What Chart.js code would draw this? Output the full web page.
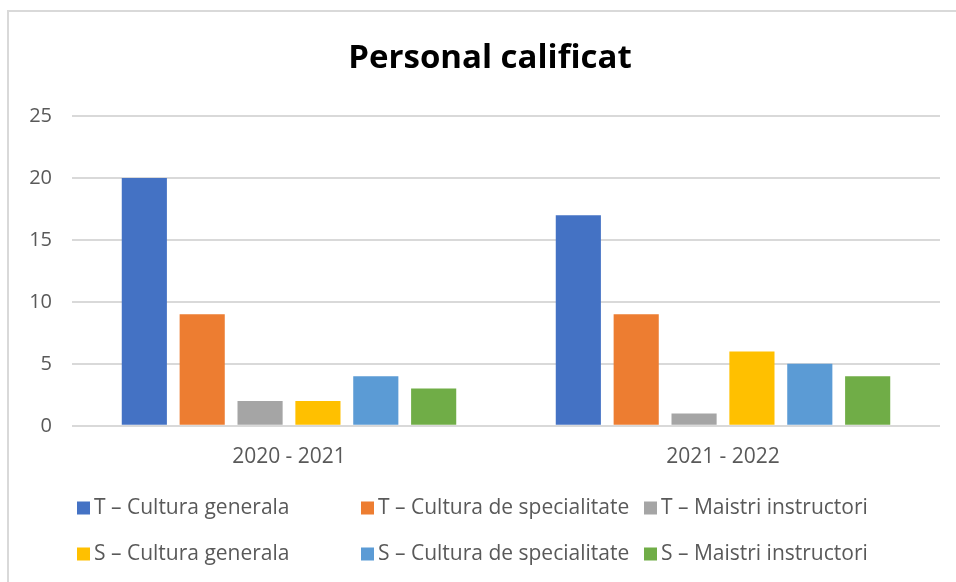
<!DOCTYPE html>
<html>
<head>
<meta charset="utf-8">
<style>
  html, body { margin: 0; padding: 0; background: #ffffff; }
  #wrap { position: relative; width: 956px; height: 582px; }
  canvas { display: block; }
</style>
<script src="https://cdn.jsdelivr.net/npm/chart.js@4.4.1/dist/chart.umd.min.js"></script>
</head>
<body>
<div id="wrap"><canvas id="c" width="956" height="582"></canvas></div>
<script>
// School years on the category axis
const categories = ['2020 - 2021', '2021 - 2022'];

// Series names (T = titular, S = suplinitor)
const seriesNames = [
  'T \u2013 Cultura generala',
  'T \u2013 Cultura de specialitate',
  'T \u2013 Maistri instructori',
  'S \u2013 Cultura generala',
  'S \u2013 Cultura de specialitate',
  'S \u2013 Maistri instructori'
];

// Staff counts per series, one value per school year
const tCulturaGenerala = [20, 17];
const tCulturaSpecialitate = [9, 9];
const tMaistri = [2, 1];
const sCulturaGenerala = [2, 6];
const sCulturaSpecialitate = [4, 5];
const sMaistri = [3, 4];

const seriesValues = [
  tCulturaGenerala, tCulturaSpecialitate, tMaistri,
  sCulturaGenerala, sCulturaSpecialitate, sMaistri
];

const seriesColors = ['#4472C4', '#ED7D31', '#A5A5A5', '#FFC000', '#5B9BD5', '#70AD47'];

// Value axis ticks
const yTicks = [0, 5, 10, 15, 20, 25];

const chartTitle = 'Personal calificat';

const FONT = '"Open Sans", Lato, sans-serif';
const GRID = '#d9d9d9';
const TEXT = '#595959';

// Outer frame lines (left and top edges) and the chart heading
const framePlugin = {
  id: 'frame',
  beforeDraw(chart) {
    const ctx = chart.ctx;
    ctx.save();
    ctx.strokeStyle = GRID;
    ctx.lineWidth = 2;
    ctx.beginPath();
    ctx.moveTo(8, chart.height);
    ctx.lineTo(8, 11);
    ctx.lineTo(chart.width, 11);
    ctx.stroke();
    ctx.fillStyle = '#000000';
    ctx.font = 'bold 33px ' + FONT;
    ctx.textAlign = 'center';
    ctx.textBaseline = 'middle';
    ctx.fillText(chartTitle, 490, 59);
    ctx.restore();
  }
};

// Legend laid out in fixed columns, three entries per row
const gridLegendPlugin = {
  id: 'gridLegend',
  afterDraw(chart) {
    const ctx = chart.ctx;
    const colX = [77, 361, 644];
    const rowY = [508, 554];
    ctx.save();
    ctx.font = '21px ' + FONT;
    ctx.textBaseline = 'middle';
    ctx.textAlign = 'left';
    chart.data.datasets.forEach((ds, i) => {
      const x = colX[i % 3];
      const y = rowY[Math.floor(i / 3)];
      ctx.fillStyle = ds.backgroundColor;
      ctx.fillRect(x, y - 6.5, 13, 13);
      ctx.fillStyle = TEXT;
      ctx.fillText(ds.label, x + 17, y);
    });
    ctx.restore();
  }
};

const datasets = seriesNames.map((name, i) => ({
  label: name,
  data: seriesValues[i],
  backgroundColor: seriesColors[i],
  borderWidth: 0,
  categoryPercentage: 0.8,
  barPercentage: 0.78
}));

new Chart(document.getElementById('c'), {
  type: 'bar',
  data: { labels: categories, datasets },
  options: {
    responsive: false,
    animation: false,
    layout: { padding: { left: 12, right: 16, top: 116, bottom: 101 } },
    plugins: {
      legend: { display: false },
      tooltip: { enabled: false },
      title: { display: false }
    },
    scales: {
      x: {
        grid: { display: false },
        border: { display: false },
        ticks: {
          color: TEXT,
          font: { family: FONT, size: 21 },
          padding: 11
        }
      },
      y: {
        min: 0,
        max: 25,
        afterBuildTicks(scale) {
          scale.ticks = yTicks.map(v => ({ value: v }));
        },
        afterFit(scale) { scale.width = 60; },
        grid: { color: GRID, lineWidth: 2, drawTicks: false },
        border: { display: false },
        ticks: {
          color: TEXT,
          font: { family: FONT, size: 20 },
          padding: 20
        }
      }
    }
  },
  plugins: [framePlugin, gridLegendPlugin]
});
</script>
</body>
</html>
